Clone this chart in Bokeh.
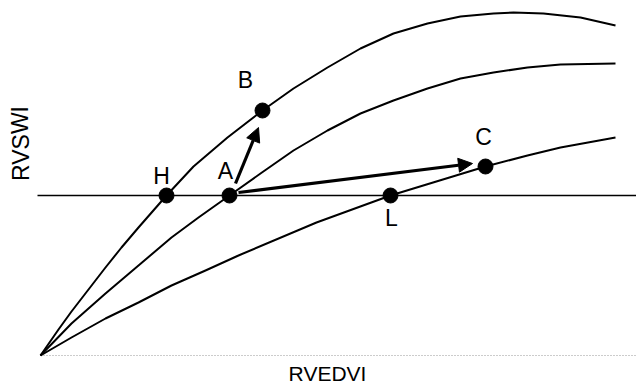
from bokeh.plotting import figure
from bokeh.models import Range1d, Label, Arrow, NormalHead
from bokeh.embed import file_html
from bokeh.resources import INLINE

# Curves (RVEDVI on x, RVSWI on y; arbitrary units)
top_x = [0, 18, 31, 48, 65, 81, 98, 126, 153, 187, 222, 253, 287, 320, 353, 387, 420, 453, 473, 503, 540, 575]
top_y = [0, 26, 44, 66, 88, 108, 128, 160, 189, 218, 245, 267, 288, 307, 322, 332, 339, 342, 343, 342, 338, 330]

mid_x = [0, 31, 65, 98, 131, 158, 189, 220, 253, 287, 320, 353, 387, 420, 453, 487, 520, 575]
mid_y = [0, 32, 62, 90, 118, 138, 160, 182, 205, 225, 242, 255, 267, 277, 283, 288, 291, 292]

bot_x = [0, 31, 65, 98, 131, 165, 198, 276, 350, 445, 487, 520, 575]
bot_y = [0, 18, 37, 53, 70, 85, 100, 133, 160, 189, 200, 208, 218]

# Marked points
pt_names = ["H", "A", "L", "B", "C"]
pt_x = [126, 189, 350, 222, 445]
pt_y = [160, 160, 160, 245, 189]
lbl_x = [121, 185, 351, 205, 443]
lbl_y = [180, 185, 138, 276, 219]

# Reference level (horizontal line) and baseline
level_y = 160
level_x = [-3, 596]
base_x = [0, 596]

# Arrows: A -> B, A -> C
arrow_x0 = [195, 198]
arrow_y0 = [172, 163]
arrow_x1 = [218, 432]
arrow_y1 = [228, 192]

FONT = "Liberation Sans"
FSIZE = "23px"

p = figure(width=636, height=387, output_backend="svg", toolbar_location=None,
           x_range=Range1d(-40, 596), y_range=Range1d(-32, 355),
           x_axis_type=None, y_axis_type=None, min_border=0)
p.grid.visible = False
p.outline_line_color = None
p.background_fill_color = "white"
p.border_fill_color = "white"

# baseline dotted
p.line(base_x, [0, 0], line_color="#999999", line_width=1, line_dash="1 2")
# horizontal reference line
p.line(level_x, [level_y, level_y], line_color="black", line_width=1.5)

for xs, ys in [(top_x, top_y), (mid_x, mid_y), (bot_x, bot_y)]:
    p.line(xs, ys, line_color="black", line_width=2, line_join="round")

for i in range(len(arrow_x0)):
    p.add_layout(Arrow(end=NormalHead(size=14, fill_color="black", line_color="black"),
                       x_start=arrow_x0[i], y_start=arrow_y0[i],
                       x_end=arrow_x1[i], y_end=arrow_y1[i],
                       line_width=3.2, line_color="black"))

p.scatter(pt_x, pt_y, size=15, color="black")

for n, lx, ly in zip(pt_names, lbl_x, lbl_y):
    p.add_layout(Label(x=lx, y=ly, text=n, text_align="center", text_baseline="middle",
                       text_font=FONT, text_font_size=FSIZE, text_color="black"))

p.add_layout(Label(x=287, y=-18, text="RVEDVI", text_align="center", text_baseline="middle",
                   text_font=FONT, text_font_size="21px", text_color="black"))
p.add_layout(Label(x=-20, y=212, text="RVSWI", text_align="center", text_baseline="middle",
                   angle=1.5708, text_font=FONT, text_font_size=FSIZE, text_color="black"))

open("out.html", "w").write(file_html(p, INLINE))
